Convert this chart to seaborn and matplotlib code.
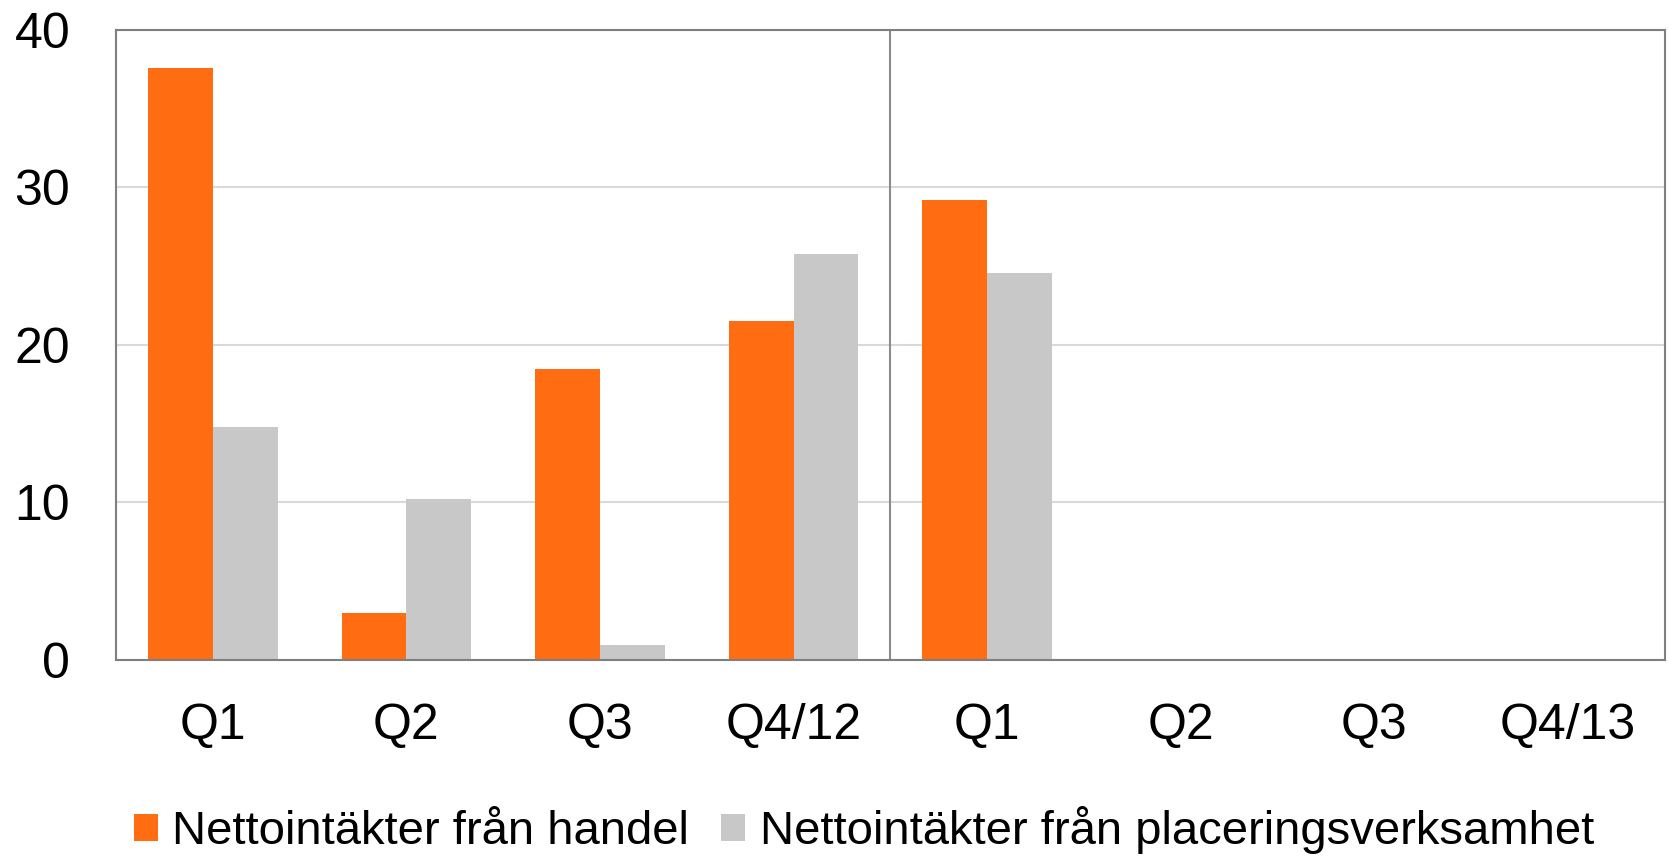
import numpy as np
import pandas as pd
import seaborn as sns
import matplotlib.pyplot as plt

# --- data ---
quarters = ["Q1/12", "Q2/12", "Q3/12", "Q4/12", "Q1/13", "Q2/13", "Q3/13", "Q4/13"]
tick_labels = ["Q1", "Q2", "Q3", "Q4/12", "Q1", "Q2", "Q3", "Q4/13"]
handel = [37.6, 3.0, 18.5, 21.5, 29.2, np.nan, np.nan, np.nan]
placering = [14.8, 10.2, 0.95, 25.8, 24.6, np.nan, np.nan, np.nan]
series = ["Nettointäkter från handel", "Nettointäkter från placeringsverksamhet"]
colors = ["#FF6C12", "#C8C8C8"]

df = pd.DataFrame({
    "quarter": quarters * 2,
    "series": [series[0]] * len(quarters) + [series[1]] * len(quarters),
    "value": handel + placering,
})

sns.set_style("white")
plt.rcParams["font.family"] = ["Liberation Sans", "DejaVu Sans"]
plt.rcParams["text.color"] = "black"
plt.rcParams["xtick.color"] = "black"
plt.rcParams["ytick.color"] = "black"

fig = plt.figure(figsize=(16.69, 8.56), dpi=100)
ax = fig.add_axes([0.0695, 0.229, 0.928, 0.736])

sns.barplot(data=df, x="quarter", y="value", hue="series", order=quarters,
            hue_order=series, palette=colors, width=0.67, saturation=1,
            linewidth=0, ax=ax)

ax.set_ylim(0, 40)
ax.set_xlim(-0.5, len(quarters) - 0.5)
ax.set_yticks([0, 10, 20, 30, 40])
ax.set_xticks(range(len(quarters)))
ax.set_xticklabels(tick_labels)
ax.set_xlabel("")
ax.set_ylabel("")
ax.tick_params(axis="y", length=0, pad=33, labelsize=36, labelcolor="black")
ax.tick_params(axis="x", length=0, pad=31, labelsize=36, labelcolor="black")

ax.grid(axis="y", color="#D9D9D9", linewidth=1.5)
ax.set_axisbelow(True)
for s in ax.spines.values():
    s.set_color("#7F7F7F")
    s.set_linewidth(1.5)

# year separator
ax.axvline(3.5, color="#8C8C8C", linewidth=1.5)

ax.get_legend().remove()
handles, labels = ax.get_legend_handles_labels()
leg = fig.legend(handles, labels, loc="center left", bbox_to_anchor=(0.0803, 0.03),
                 ncol=2, frameon=False, fontsize=34, handlelength=0.51,
                 handleheight=0.51, handletextpad=0.30, columnspacing=0.68,
                 borderpad=0, borderaxespad=0)
for t in leg.get_texts():
    t.set_color("black")

plt.savefig("out.png", dpi=100)
